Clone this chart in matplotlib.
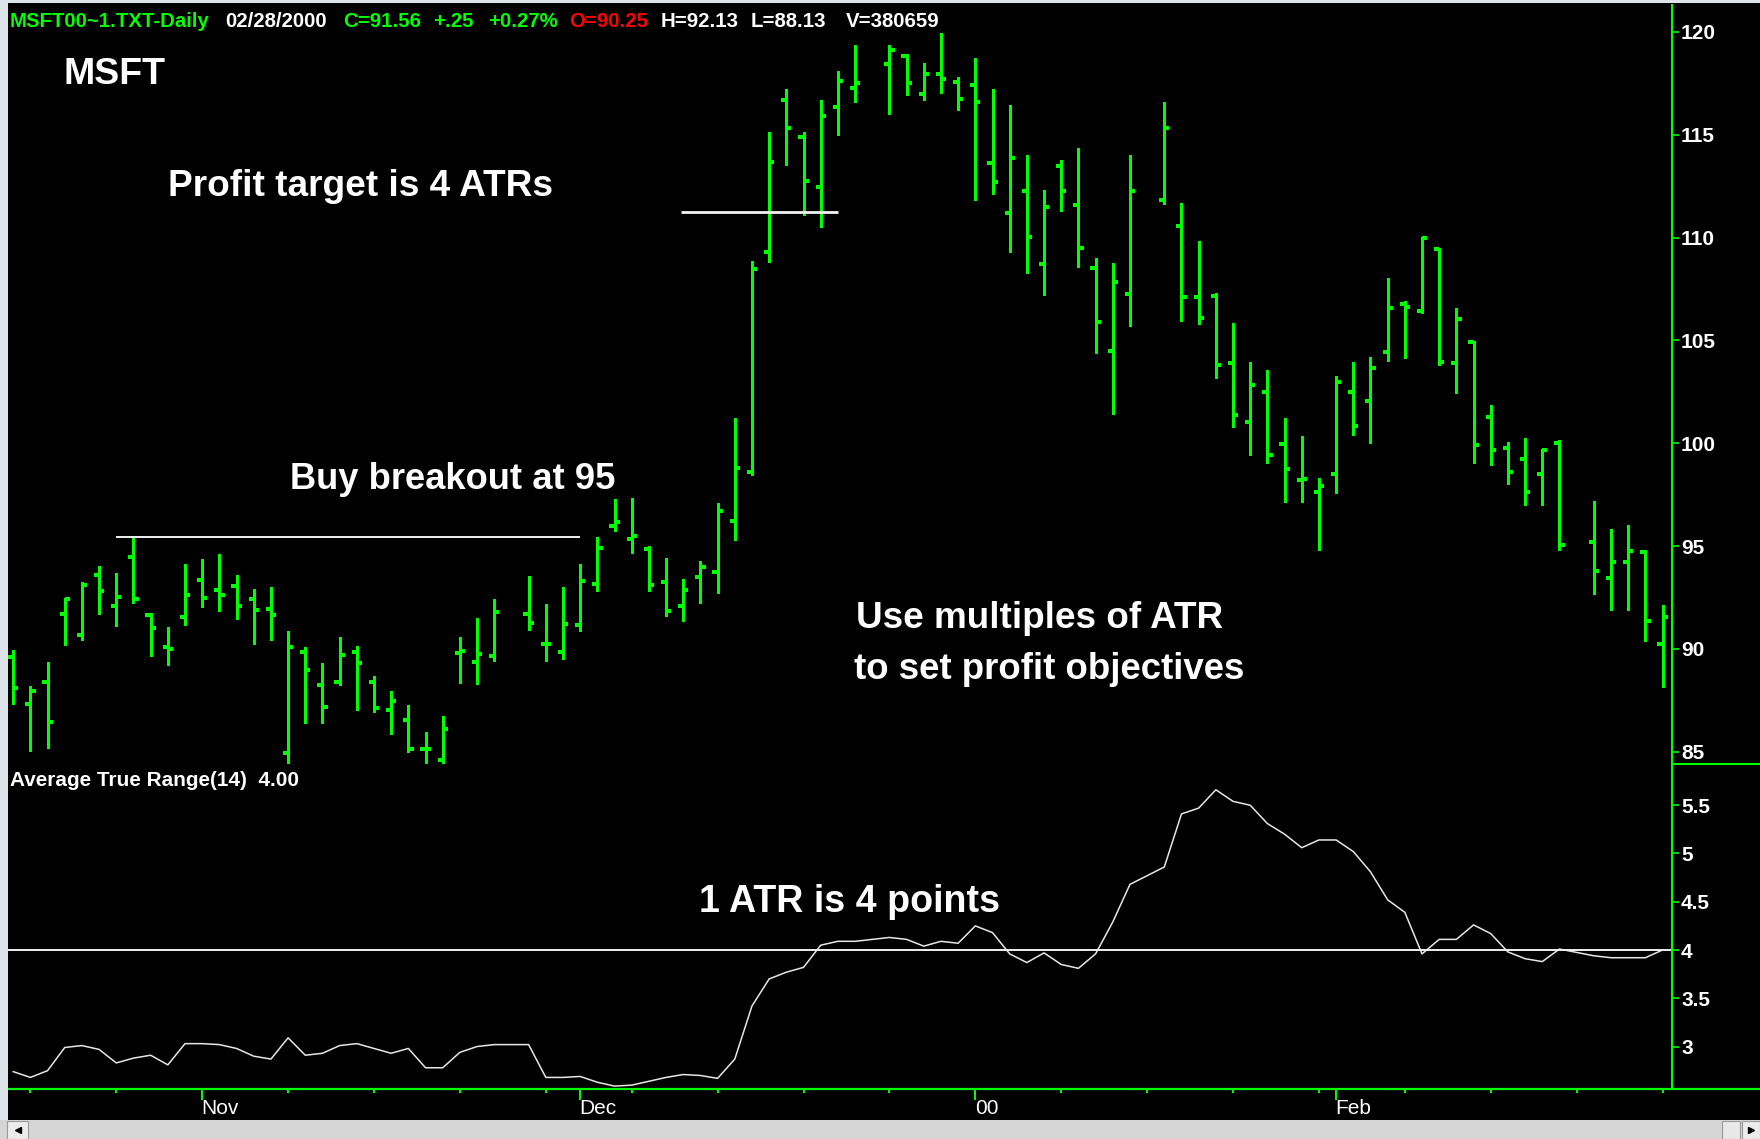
import numpy as np
import pandas as pd
import matplotlib
matplotlib.use("Agg")
import matplotlib.pyplot as plt
import matplotlib.transforms as mtransforms
from matplotlib.lines import Line2D
from matplotlib.patches import Rectangle

# ---------------- data ----------------
HOLIDAYS = ['1999-11-25', '1999-12-24', '2000-01-17', '2000-02-21']
ALL_DAYS = pd.bdate_range('1999-10-15', '2000-02-28')
DATES = ALL_DAYS[~ALL_DAYS.isin(pd.to_datetime(HOLIDAYS))]

OPEN = [89.58, 87.31, 88.37, 91.70, 90.67, 93.61, 92.10, 94.46, 91.66, 90.07,
        91.53, 93.37, 92.87, 93.08, 92.40, 91.94, 84.92, 89.83, 88.24, 88.37,
        89.83, 88.37, 87.04, 86.53, 85.12, 84.58, 89.78, 89.34, 89.66,
        91.69, 90.26, 89.83, 91.17, 93.16, 95.95, 95.32, 94.86, 93.24, 92.10,
        93.48, 93.72, 96.24, 98.60, 109.32, 116.68, 114.89, 112.44, 116.34, 117.26,
        118.45, 118.82, 117.00, 117.96, 117.56, 117.44, 113.62, 111.19, 112.28, 108.70,
        113.46, 111.59, 108.54, 104.48, 107.26,
        111.84, 110.57, 107.13, 107.16, 103.91, 101.04, 102.47, 99.94, 98.20, 97.65,
        98.50, 102.47, 102.03, 104.42, 106.79, 106.44, 109.44, 103.90, 104.94, 101.29,
        99.77, 99.25, 98.50, 100.03,
        95.19, 93.46, 94.23, 94.72, 90.25]
HIGH = [89.96, 88.17, 89.37, 92.48, 93.27, 94.02, 93.68, 95.40, 91.73, 91.08,
        94.13, 94.38, 94.62, 93.61, 92.92, 93.00, 90.88, 90.07, 89.29, 90.56,
        90.12, 88.69, 87.93, 87.26, 85.98, 86.74, 90.56, 91.50, 92.42,
        93.53, 92.18, 93.03, 94.13, 95.43, 97.27, 97.33, 95.02, 94.42, 93.40,
        94.26, 97.09, 101.23, 108.88, 115.12, 117.23, 115.12, 116.71, 118.09, 119.36,
        119.39, 118.94, 118.50, 119.96, 117.82, 118.74, 117.23, 116.47, 114.03, 112.33,
        113.76, 114.36, 109.03, 108.78, 114.03,
        116.58, 111.68, 109.81, 107.32, 105.83, 103.95, 103.55, 101.25, 100.33, 98.29,
        103.29, 103.95, 104.21, 108.05, 106.91, 110.05, 109.47, 106.60, 104.96, 101.86,
        100.07, 100.24, 99.74, 100.15,
        97.19, 95.85, 96.02, 94.80, 92.13]
LOW = [87.31, 85.04, 85.20, 90.19, 90.43, 91.70, 91.10, 92.23, 89.67, 89.23,
       91.18, 92.02, 91.86, 91.45, 90.24, 90.43, 84.39, 86.37, 86.37, 88.24,
       87.04, 86.91, 85.88, 84.96, 84.42, 84.44, 88.36, 88.28, 89.42,
       90.91, 89.42, 89.50, 90.88, 92.80, 95.71, 94.67, 92.83, 91.61, 91.37,
       92.21, 92.72, 95.27, 98.44, 108.80, 113.54, 111.11, 110.51, 115.01, 116.60,
       116.01, 116.92, 116.71, 117.04, 116.19, 111.84, 112.11, 109.32, 108.30, 107.21,
       111.27, 108.56, 104.37, 101.44, 105.70,
       111.63, 105.94, 105.79, 103.15, 100.79, 99.42, 99.02, 97.16, 97.16, 94.80,
       97.56, 100.38, 100.03, 104.00, 104.13, 106.34, 103.78, 102.42, 99.02, 98.93,
       98.03, 96.98, 96.98, 94.80,
       92.66, 91.90, 91.90, 90.36, 88.13]
CLOSE = [88.12, 87.96, 86.45, 92.40, 93.11, 92.80, 92.54, 92.43, 91.01, 89.99,
         92.62, 92.48, 92.62, 92.10, 91.89, 91.66, 90.07, 88.97, 87.18, 89.72,
         89.31, 87.12, 87.47, 85.12, 85.12, 86.09, 89.91, 89.74, 91.77,
         91.24, 90.26, 91.21, 93.32, 94.89, 96.16, 95.51, 93.11, 91.86, 92.86,
         93.97, 96.70, 98.81, 108.46, 113.67, 115.31, 112.76, 115.90, 117.60, 117.52,
         119.13, 117.52, 117.96, 117.69, 116.74, 116.58, 112.68, 113.87, 110.05, 111.51,
         112.28, 109.48, 105.91, 107.86, 112.28,
         115.33, 107.13, 106.10, 103.80, 101.36, 102.82, 99.42, 98.76, 98.24, 97.91,
         102.99, 100.85, 103.66, 106.56, 106.62, 109.96, 103.95, 106.04, 99.91, 99.68,
         98.59, 97.65, 99.68, 95.07,
         93.81, 94.23, 94.75, 91.36, 91.56]
ATR14 = [2.74, 2.68, 2.75, 2.99, 3.01, 2.97, 2.83, 2.88, 2.91, 2.81,
         3.03, 3.03, 3.02, 2.98, 2.90, 2.87, 3.09, 2.91, 2.93, 3.01,
         3.03, 2.98, 2.93, 2.98, 2.78, 2.78, 2.94, 3.00, 3.02,
         3.02, 2.68, 2.68, 2.69, 2.63, 2.59, 2.60, 2.64, 2.68, 2.71,
         2.70, 2.67, 2.87, 3.42, 3.70, 3.77, 3.82, 4.05, 4.09, 4.09,
         4.13, 4.11, 4.04, 4.09, 4.07, 4.25, 4.18, 3.96, 3.87, 3.97,
         3.85, 3.81, 3.96, 4.29, 4.68,
         4.86, 5.41, 5.47, 5.66, 5.54, 5.50, 5.31, 5.20, 5.06, 5.14,
         5.14, 5.02, 4.81, 4.52, 4.39, 3.96, 4.11, 4.11, 4.26, 4.17,
         3.98, 3.91, 3.88, 4.01,
         3.94, 3.92, 3.92, 3.92, 4.00]

ATR_LEVEL = 4.0
BREAKOUT_LEVEL = 95.45
TARGET_LEVEL = 111.25

PRICE_TICKS = [85, 90, 95, 100, 105, 110, 115, 120]
ATR_TICKS = [3, 3.5, 4, 4.5, 5, 5.5]
ATR_TICK_LABELS = ['3', '3.5', '4', '4.5', '5', '5.5']
MONTH_STARTS = ['1999-11-01', '1999-12-01', '2000-01-03', '2000-02-01']
MONTH_LABELS = ['Nov', 'Dec', '00', 'Feb']

HEADER = [('MSFT00~1.TXT-Daily', 'green'), ('02/28/2000', 'white'),
          ('C=91.56', 'green'), ('+.25', 'green'), ('+0.27%', 'green'),
          ('O=90.25', 'red'), ('H=92.13', 'white'), ('L=88.13', 'white'),
          ('V=380659', 'white')]
ATR_TITLE = 'Average True Range(14)  4.00'

# ---------------- drawing ----------------
W, H = 1760, 1139
GREEN = '#00FF00'
COLORS = {'green': '#00FF00', 'white': '#FFFFFF', 'red': '#FF0000'}
plt.rcParams['font.family'] = ['Liberation Sans', 'DejaVu Sans']

fig = plt.figure(figsize=(W / 100, H / 100), dpi=100, facecolor='black')
renderer = fig.canvas.get_renderer()

START = np.datetime64('1999-10-15')


def slot(days):
    return np.busday_count(START, np.asarray(pd.DatetimeIndex(days).values, dtype='datetime64[D]'))


xs = slot(DATES)
mondays = ALL_DAYS[ALL_DAYS.weekday == 0]
x_mon = slot(mondays)
x_month = slot(pd.to_datetime(MONTH_STARTS))

XL = (-0.303, 96.55)
ax = fig.add_axes([8 / W, 1 - 764 / H, 1664 / W, 760 / H], facecolor='black')
axa = fig.add_axes([8 / W, 1 - 1089 / H, 1664 / W, 325 / H], facecolor='black')

for a in (ax, axa):
    for s in a.spines.values():
        s.set_visible(False)
    a.set_xlim(*XL)
    a.tick_params(axis='y', which='both', left=False, right=True, labelleft=False,
                  labelright=True, direction='out', length=5, width=1.2, color=GREEN,
                  labelcolor='white', labelsize=15, pad=1.5)

ax.set_ylim(84.40, 121.36)
axa.set_ylim(2.560, 5.927)
ax.set_yticks(PRICE_TICKS, [str(t) for t in PRICE_TICKS], fontweight='bold')
axa.set_yticks(ATR_TICKS, ATR_TICK_LABELS, fontweight='bold')
ax.tick_params(axis='x', bottom=False, labelbottom=False)

# OHLC bars
ax.vlines(xs, LOW, HIGH, color=GREEN, lw=2.16, capstyle='butt', antialiased=False)
ax.hlines(OPEN, xs - 0.3, xs, color=GREEN, lw=1.5, antialiased=False)
ax.hlines(CLOSE, xs, xs + 0.3, color=GREEN, lw=1.5, antialiased=False)

# annotation lines
ax.plot([5.98, 32.99], [BREAKOUT_LEVEL, BREAKOUT_LEVEL], color='#F2F2F2', lw=1.4,
        solid_capstyle='butt')
ax.plot([38.85, 48.0], [TARGET_LEVEL, TARGET_LEVEL], color='#F2F2F2', lw=2.0,
        solid_capstyle='butt')

# ATR panel
axa.plot(xs, ATR14, color='#E6E6E6', lw=1.1)
axa.axhline(ATR_LEVEL, color='#F0F0F0', lw=1.4)

axa.set_xticks(x_month)
axa.set_xticks(x_mon, minor=True)
axa.tick_params(axis='x', which='major', bottom=True, length=8, width=1.4, color=GREEN,
                labelbottom=False, direction='out')
axa.tick_params(axis='x', which='minor', bottom=True, length=3, width=1.4, color=GREEN,
                labelbottom=False, direction='out')

blend = mtransforms.blended_transform_factory(axa.transData, axa.transAxes)
tmp = fig.text(0, 0, 'Nov', fontsize=20)
nov_w = tmp.get_window_extent(renderer).width
tmp.remove()
date_size = 20 * 37 / nov_w
for xm, lab in zip(x_month, MONTH_LABELS):
    axa.text(xm - 0.03, -(1114 - 1089) / 325, lab, transform=blend, color='white',
             fontsize=date_size, ha='left', va='baseline')


# figure-level lines and frame
def fig_line(x0, y0, x1, y1, **kw):
    fig.add_artist(Line2D([x0 / W, x1 / W], [1 - y0 / H, 1 - y1 / H],
                          transform=fig.transFigure, **kw))


fig_line(1672, 4, 1672, 1089, color=GREEN, lw=1.5, solid_capstyle='butt')
fig_line(1672, 764, 1760, 764, color=GREEN, lw=1.5, solid_capstyle='butt')
fig_line(8, 1089, 1760, 1089, color=GREEN, lw=1.6, solid_capstyle='butt')


def fig_rect(x0, y0, x1, y1, **kw):
    fig.add_artist(Rectangle((x0 / W, 1 - y1 / H), (x1 - x0) / W, (y1 - y0) / H,
                             transform=fig.transFigure, **kw))


FRAME = '#DCE4EA'
fig_rect(0, 0, 8, 1120, color=FRAME, lw=0)
fig_rect(0, 0, 1760, 3, color=FRAME, lw=0)
fig_rect(0, 1120, 1760, 1139, color='#D6D6D6', lw=0)
fig_rect(7, 1121, 28, 1139, facecolor='#ECECEC', edgecolor='#9A9A9A', lw=0.8)
fig_rect(1722, 1121, 1740, 1139, facecolor='#E8E8E8', edgecolor='#9A9A9A', lw=0.8)
fig_rect(1742, 1121, 1760, 1139, facecolor='#ECECEC', edgecolor='#9A9A9A', lw=0.8)
fig.add_artist(Line2D([17.5 / W], [1 - 1130 / H], marker='<', color='black', ms=5,
                      transform=fig.transFigure))
fig.add_artist(Line2D([1751 / W], [1 - 1130 / H], marker='>', color='black', ms=5,
                      transform=fig.transFigure))


# texts
def fit_text(x, y, s, width, base=20, **kw):
    t = fig.text(x / W, 1 - y / H, s, fontsize=base, va='baseline', ha='left', **kw)
    w = t.get_window_extent(renderer).width
    t.set_fontsize(base * width / w)
    return t


fit_text(64, 84, 'MSFT', 102, color='white', fontweight='bold')
fit_text(168, 196, 'Profit target is 4 ATRs', 384, color='white', fontweight='bold')
fit_text(290, 489, 'Buy breakout at 95', 325, color='white', fontweight='bold')
fit_text(856, 628, 'Use multiples of ATR', 367, color='white', fontweight='bold')
fit_text(854, 679, 'to set profit objectives', 390, color='white', fontweight='bold')
fit_text(699, 912, '1 ATR is 4 points', 300, color='white', fontweight='bold')
fit_text(10, 786, ATR_TITLE, 289, color='white', fontweight='bold')

# header
t0 = fit_text(10, 27, HEADER[0][0], 199, color=COLORS[HEADER[0][1]], fontweight='bold')
hsize = t0.get_fontsize()
HEADER_X = [10, 225.6, 343.5, 433, 488, 569, 661, 751, 846]
for (txt, col), hx in zip(HEADER[1:], HEADER_X[1:]):
    fig.text(hx / W, 1 - 27 / H, txt, fontsize=hsize, va='baseline', ha='left',
             color=COLORS[col], fontweight='bold')

fig.savefig('out.png', dpi=100, facecolor='black')
